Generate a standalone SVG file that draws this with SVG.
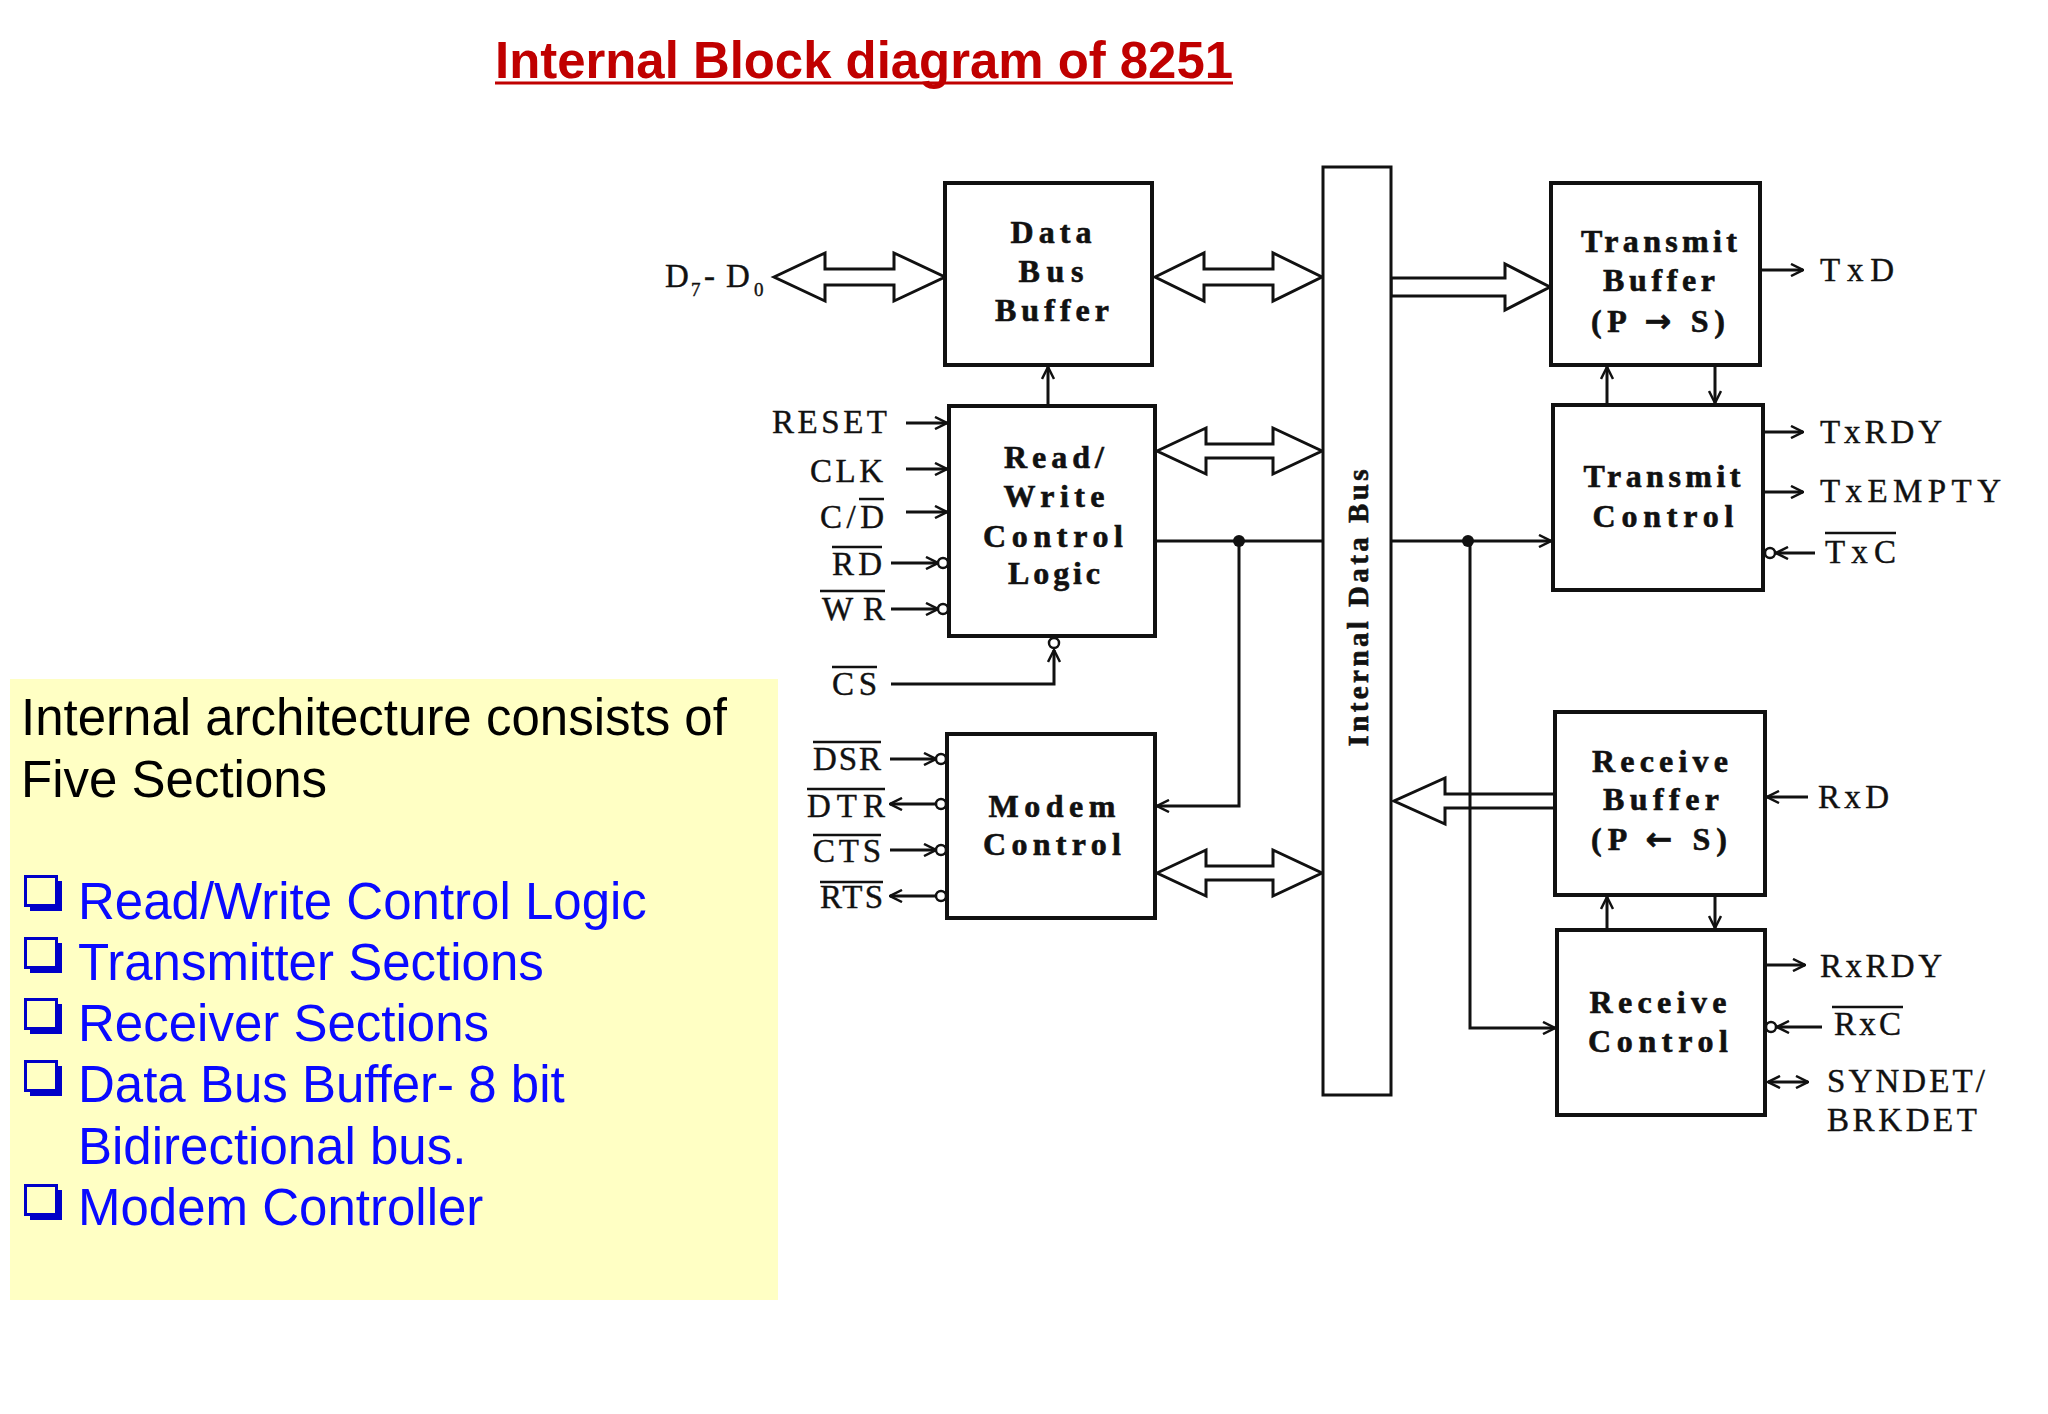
<svg xmlns="http://www.w3.org/2000/svg" width="2048" height="1414" viewBox="0 0 2048 1414">
<style>
.box{fill:#fff;stroke:#111;stroke-width:4}
.bus{fill:#fff;stroke:#111;stroke-width:3}
.lbl{font-family:"Liberation Serif",serif;font-size:33px;fill:#111;stroke:#111;stroke-width:0.4}
.sub{font-size:19px}
.blk{font-family:"Liberation Serif",serif;font-weight:bold;font-size:32px;fill:#111;text-anchor:middle;stroke:#111;stroke-width:0.6}
.arw{font-family:"DejaVu Sans",sans-serif;font-weight:bold}
.wire{fill:none;stroke:#111;stroke-width:3}
.hollow{fill:#fff;stroke:#111;stroke-width:3}
.bar{stroke:#111;stroke-width:2.5}
.bub{fill:#fff;stroke:#111;stroke-width:2.5}
.side{font-family:"Liberation Sans",Arial,sans-serif;font-size:51px}
.blue{fill:#0a0aff}
</style>
<defs>
<marker id="ah" viewBox="0 0 14 14" refX="13" refY="7" markerWidth="14" markerHeight="14" markerUnits="userSpaceOnUse" orient="auto-start-reverse"><path d="M1,1 L13,7 L1,13" fill="none" stroke="#111" stroke-width="2.5"/></marker>
<g id="cb"><rect x="6" y="6" width="32" height="30" fill="#0000c8"/><rect x="1.5" y="1.5" width="31" height="29" fill="#ffffc4" stroke="#0000c8" stroke-width="3"/></g>
</defs>
<rect width="2048" height="1414" fill="#fff"/>

<g id="title">
<text x="495" y="78" font-family="'Liberation Sans',Arial,sans-serif" font-weight="bold" font-size="52" fill="#c00000" textLength="738" lengthAdjust="spacingAndGlyphs">Internal Block diagram of 8251</text>
<line x1="495" y1="83" x2="1233" y2="83" stroke="#c00000" stroke-width="3"/>
</g>

<g id="summary">
<rect x="10" y="679" width="768" height="621" fill="#ffffc4"/>
<text class="side" x="21" y="735" fill="#000">Internal architecture consists of</text>
<text class="side" x="21" y="797" fill="#000">Five Sections</text>
<use href="#cb" x="24" y="875"/>
<use href="#cb" x="24" y="937"/>
<use href="#cb" x="24" y="998"/>
<use href="#cb" x="24" y="1060"/>
<use href="#cb" x="24" y="1184"/>
<text class="side blue" x="78" y="919">Read/Write Control Logic</text>
<text class="side blue" x="78" y="980">Transmitter Sections</text>
<text class="side blue" x="78" y="1041">Receiver Sections</text>
<text class="side blue" x="78" y="1102">Data Bus Buffer- 8 bit</text>
<text class="side blue" x="78" y="1164">Bidirectional bus.</text>
<text class="side blue" x="78" y="1225">Modem Controller</text>
</g>

<g id="connectors">
<polygon class="hollow" points="774,277 825,253 825,269 894,269 894,253 945,277 894,301 894,285 825,285 825,301"/>
<polygon class="hollow" points="1155,277 1204,253 1204,269 1273,269 1273,253 1322,277 1273,301 1273,285 1204,285 1204,301"/>
<polygon class="hollow" points="1157,451 1206,428 1206,444 1273,444 1273,428 1322,451 1273,474 1273,458 1206,458 1206,474"/>
<polygon class="hollow" points="1157,873 1206,850 1206,866 1273,866 1273,850 1322,873 1273,896 1273,880 1206,880 1206,896"/>
<polygon class="hollow" points="1391,278 1505,278 1505,264 1550,287 1505,310 1505,296 1391,296"/>
<polygon class="hollow" points="1555,794 1445,794 1445,778 1394,801 1445,824 1445,808 1555,808"/>
<line class="wire" x1="1048" y1="406" x2="1048" y2="367" marker-end="url(#ah)"/>
<line class="wire" x1="1155" y1="541" x2="1323" y2="541"/>
<polyline class="wire" points="1239,541 1239,806 1157,806" marker-end="url(#ah)"/>
<line class="wire" x1="1391" y1="541" x2="1551" y2="541" marker-end="url(#ah)"/>
<polyline class="wire" points="1470,541 1470,1028 1555,1028" marker-end="url(#ah)"/>
<circle cx="1239" cy="541" r="6" fill="#111"/>
<circle cx="1468" cy="541" r="6" fill="#111"/>
<line class="wire" x1="1607" y1="405" x2="1607" y2="367" marker-end="url(#ah)"/>
<line class="wire" x1="1715" y1="365" x2="1715" y2="403" marker-end="url(#ah)"/>
<line class="wire" x1="1607" y1="930" x2="1607" y2="897" marker-end="url(#ah)"/>
<line class="wire" x1="1715" y1="895" x2="1715" y2="928" marker-end="url(#ah)"/>
<line class="wire" x1="906" y1="423" x2="947" y2="423" marker-end="url(#ah)"/>
<line class="wire" x1="906" y1="469" x2="947" y2="469" marker-end="url(#ah)"/>
<line class="wire" x1="906" y1="512" x2="947" y2="512" marker-end="url(#ah)"/>
<line class="wire" x1="891" y1="563" x2="938" y2="563" marker-end="url(#ah)"/>
<circle class="bub" cx="943" cy="563" r="5"/>
<line class="wire" x1="891" y1="609" x2="938" y2="609" marker-end="url(#ah)"/>
<circle class="bub" cx="943" cy="609" r="5"/>
<polyline class="wire" points="891,684 1054,684 1054,650" marker-end="url(#ah)"/>
<circle class="bub" cx="1054" cy="643" r="5"/>
<line class="wire" x1="890" y1="759" x2="936" y2="759" marker-end="url(#ah)"/>
<circle class="bub" cx="941" cy="759" r="5"/>
<line class="wire" x1="936" y1="804" x2="890" y2="804" marker-end="url(#ah)"/>
<circle class="bub" cx="941" cy="804" r="5"/>
<line class="wire" x1="890" y1="850" x2="936" y2="850" marker-end="url(#ah)"/>
<circle class="bub" cx="941" cy="850" r="5"/>
<line class="wire" x1="936" y1="896" x2="890" y2="896" marker-end="url(#ah)"/>
<circle class="bub" cx="941" cy="896" r="5"/>
<line class="wire" x1="1762" y1="270" x2="1803" y2="270" marker-end="url(#ah)"/>
<line class="wire" x1="1765" y1="432" x2="1803" y2="432" marker-end="url(#ah)"/>
<line class="wire" x1="1765" y1="492" x2="1803" y2="492" marker-end="url(#ah)"/>
<line class="wire" x1="1815" y1="553" x2="1776" y2="553" marker-end="url(#ah)"/>
<circle class="bub" cx="1770" cy="553" r="5"/>
<line class="wire" x1="1808" y1="797" x2="1767" y2="797" marker-end="url(#ah)"/>
<line class="wire" x1="1767" y1="965" x2="1805" y2="965" marker-end="url(#ah)"/>
<line class="wire" x1="1822" y1="1027" x2="1777" y2="1027" marker-end="url(#ah)"/>
<circle class="bub" cx="1771" cy="1027" r="5"/>
<line class="wire" x1="1768" y1="1082" x2="1808" y2="1082" marker-start="url(#ah)" marker-end="url(#ah)"/>
</g>

<g id="data-bus-buffer">
<rect class="box" x="945" y="183" width="207" height="182"/>
<text class="blk" x="1051" y="243" textLength="81">Data</text>
<text class="blk" x="1051" y="282" textLength="65">Bus</text>
<text class="blk" x="1052" y="321" textLength="114">Buffer</text>
</g>

<g id="rw-control-logic">
<rect class="box" x="949" y="406" width="206" height="230"/>
<text class="blk" x="1054" y="468" textLength="100">Read/</text>
<text class="blk" x="1054" y="507" textLength="101">Write</text>
<text class="blk" x="1053" y="547" textLength="140">Control</text>
<text class="blk" x="1054" y="584" textLength="92">Logic</text>
</g>

<g id="modem-control">
<rect class="box" x="947" y="734" width="208" height="184"/>
<text class="blk" x="1052" y="817" textLength="127">Modem</text>
<text class="blk" x="1052" y="855" textLength="138">Control</text>
</g>

<g id="internal-data-bus">
<rect class="bus" x="1323" y="167" width="68" height="928"/>
<text class="blk" transform="translate(1368,608) rotate(-90)" style="font-size:29px" textLength="277">Internal Data Bus</text>
</g>

<g id="transmit-buffer">
<rect class="box" x="1551" y="183" width="209" height="182"/>
<text class="blk" x="1659" y="252" textLength="156">Transmit</text>
<text class="blk" x="1659" y="291" textLength="112">Buffer</text>
<text class="blk" x="1658" y="332" textLength="134">(P <tspan class="arw">→</tspan> S)</text>
</g>

<g id="transmit-control">
<rect class="box" x="1553" y="405" width="210" height="185"/>
<text class="blk" x="1662" y="487" textLength="157">Transmit</text>
<text class="blk" x="1663" y="527" textLength="141">Control</text>
</g>

<g id="receive-buffer">
<rect class="box" x="1555" y="712" width="210" height="183"/>
<text class="blk" x="1660" y="772" textLength="136">Receive</text>
<text class="blk" x="1661" y="810" textLength="116">Buffer</text>
<text class="blk" x="1659" y="850" textLength="136">(P <tspan class="arw">←</tspan> S)</text>
</g>

<g id="receive-control">
<rect class="box" x="1557" y="930" width="208" height="185"/>
<text class="blk" x="1658" y="1013" textLength="137">Receive</text>
<text class="blk" x="1658" y="1052" textLength="140">Control</text>
</g>

<g id="pin-labels">
<text class="lbl" x="665" y="287">D</text>
<text class="lbl sub" x="691" y="296">7</text>
<text class="lbl" x="704" y="287">-</text>
<text class="lbl" x="726" y="287">D</text>
<text class="lbl sub" x="754" y="296">0</text>
<text class="lbl" x="887" y="433" text-anchor="end" textLength="115">RESET</text>
<text class="lbl" x="883" y="482" text-anchor="end" textLength="73">CLK</text>
<text class="lbl" x="884" y="528" text-anchor="end" textLength="64">C/D</text>
<line class="bar" x1="859" y1="499" x2="884" y2="499"/>
<text class="lbl" x="882" y="575" text-anchor="end" textLength="50">RD</text>
<line class="bar" x1="832" y1="547" x2="882" y2="547"/>
<text class="lbl" x="885" y="620" text-anchor="end" textLength="63">WR</text>
<line class="bar" x1="820" y1="591" x2="885" y2="591"/>
<text class="lbl" x="877" y="695" text-anchor="end" textLength="45">CS</text>
<line class="bar" x1="832" y1="667" x2="877" y2="667"/>
<text class="lbl" x="881" y="770" text-anchor="end" textLength="68">DSR</text>
<line class="bar" x1="813" y1="742" x2="881" y2="742"/>
<text class="lbl" x="885" y="817" text-anchor="end" textLength="78">DTR</text>
<line class="bar" x1="807" y1="789" x2="885" y2="789"/>
<text class="lbl" x="881" y="862" text-anchor="end" textLength="68">CTS</text>
<line class="bar" x1="813" y1="835" x2="881" y2="835"/>
<text class="lbl" x="883" y="908" text-anchor="end" textLength="63">RTS</text>
<line class="bar" x1="820" y1="882" x2="883" y2="882"/>
<text class="lbl" x="1820" y="281" textLength="74">TxD</text>
<text class="lbl" x="1820" y="443" textLength="122">TxRDY</text>
<text class="lbl" x="1820" y="502" textLength="181">TxEMPTY</text>
<text class="lbl" x="1825" y="563" textLength="71">TxC</text>
<line class="bar" x1="1825" y1="533" x2="1896" y2="533"/>
<text class="lbl" x="1818" y="808" textLength="71">RxD</text>
<text class="lbl" x="1820" y="977" textLength="122">RxRDY</text>
<text class="lbl" x="1834" y="1035" textLength="67">RxC</text>
<line class="bar" x1="1832" y1="1007" x2="1903" y2="1007"/>
<text class="lbl" x="1827" y="1092" textLength="158">SYNDET/</text>
<text class="lbl" x="1827" y="1131" textLength="150">BRKDET</text>
</g>
</svg>
